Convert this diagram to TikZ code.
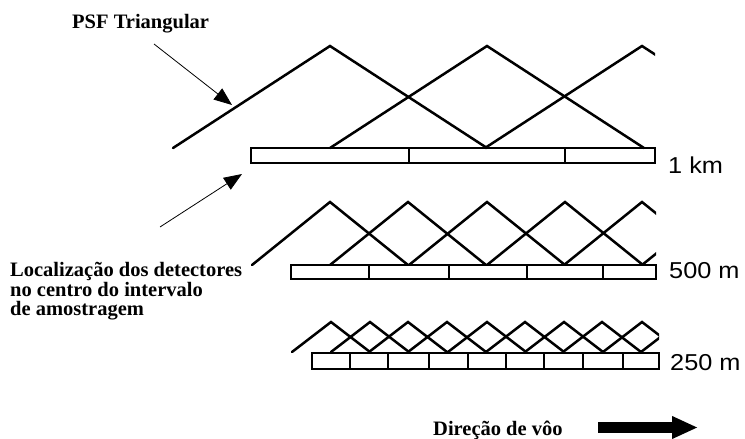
\documentclass[tikz,border=0pt]{standalone}
\usepackage{fontspec}
\setmainfont{Liberation Serif}
\setsansfont{Liberation Sans}
\usetikzlibrary{arrows.meta}
\begin{document}
\begin{tikzpicture}[x=1pt,y=-1pt,
    psf/.style={line width=2.5pt, line cap=round, line join=miter},
    barra/.style={line width=1.9pt},
    rotulo/.style={font=\bfseries\fontsize{20.5}{18}\selectfont, inner sep=0pt},
    escala/.style={font=\sffamily\fontsize{23}{23}\selectfont, inner sep=0pt, anchor=base west},
    seta/.style={line width=0.8pt, -{Triangle[length=18pt,width=14pt]}}]
      \useasboundingbox (0,0) rectangle (745,439);
      \draw[barra] (251,148) rectangle (655,163);
      \foreach \x in {409,565} {
        \draw[barra] (\x,148) -- (\x,163);
      }
      \draw[barra] (291,265) rectangle (656,279);
      \foreach \x in {369,449,527,603} {
        \draw[barra] (\x,265) -- (\x,279);
      }
      \draw[barra] (312,353) rectangle (659,369);
      \foreach \x in {350,388,429,468,506,544,583,623} {
        \draw[barra] (\x,353) -- (\x,369);
      }
      \begin{scope}
        \clip (0,0) rectangle (655,439);
        \foreach \c in {330,487,642} {
          \draw[psf] (\c-157,148) -- (\c,46) -- (\c+157,148);
        }
      \end{scope}
      \begin{scope}
        \clip (0,0) rectangle (656,439);
        \foreach \c in {330,408,487,565,642,720} {
          \draw[psf] (\c-78,265) -- (\c,202) -- (\c+78,265);
        }
      \end{scope}
      \begin{scope}
        \clip (0,0) rectangle (659,439);
        \foreach \c in {331,370,408,447,487,525,564,602,642,680} {
          \draw[psf] (\c-39,352) -- (\c,322) -- (\c+39,352);
        }
      \end{scope}
      \node[rotulo, anchor=north west, align=left] (local) at (10,262)
        {Localização dos detectores\\[1pt]no centro do intervalo\\[1pt]de amostragem};
      \node[rotulo, anchor=base west] (psf) at (72,28) {PSF Triangular};
      \node[rotulo, anchor=base west] (voo) at (433,435) {Direção de vôo};
      \node[escala] (km1) at (668,173) {\scalebox{1.1}[1]{1 km}};
      \node[escala] (m500) at (669,278) {\scalebox{1.1}[1]{500 m}};
      \node[escala] (m250) at (670,370) {\scalebox{1.1}[1]{250 m}};
      \coordinate (psf ini) at (154,44);
      \coordinate (psf pta) at (232,105);
      \coordinate (local ini) at (160,227);
      \coordinate (local pta) at (242,174);
      \draw[seta] (psf ini) -- (psf pta);
      \draw[seta] (local ini) -- (local pta);
      \coordinate (voo ini) at (598,427.5);
      \coordinate (voo fim) at (698,427.5);
      \draw[line width=11pt, -{Triangle[length=26pt,width=21pt]}] (voo ini) -- (voo fim);
    \end{tikzpicture}
\end{document}
